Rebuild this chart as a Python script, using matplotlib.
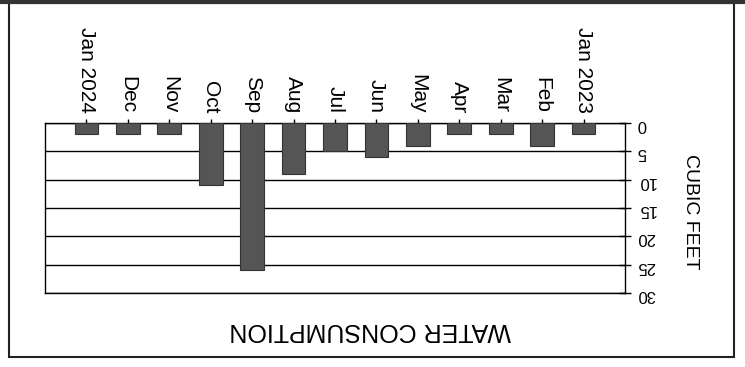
import numpy as np
import matplotlib
matplotlib.use('Agg')
import matplotlib.pyplot as plt
from matplotlib.patches import Rectangle

plt.rcParams['font.family'] = ['Liberation Sans', 'DejaVu Sans']

# monthly water use, chronological (chart is printed upside down on the bill)
months = ['Jan 2023', 'Feb', 'Mar', 'Apr', 'May', 'Jun', 'Jul',
          'Aug', 'Sep', 'Oct', 'Nov', 'Dec', 'Jan 2024']
cubic_feet = [2, 4, 2, 2, 4, 6, 5, 9, 26, 11, 2, 2, 2]
y_ticks = [0, 5, 10, 15, 20, 25, 30]

W, H = 745, 367
fig = plt.figure(figsize=(W / 100, H / 100), dpi=100)
ax = fig.add_axes([45 / W, 1 - 293 / H, (625 - 45) / W, (293 - 123) / H])

x = np.arange(len(months))
ax.bar(x, cubic_feet, width=0.57, color='#555555', edgecolor='#333333', linewidth=0.8, zorder=3)

# rotated 180 degrees: x runs right to left, y runs top to bottom
ax.set_xlim(len(months), -1)
ax.set_ylim(30, 0)

ax.xaxis.tick_top()
ax.set_xticks(x)
ax.set_xticklabels(months, rotation=270, fontsize=15)
ax.tick_params(axis='x', direction='out', length=3, width=1, pad=4)

# labels sit a little below their ticks on the scan, the default baseline alignment gives that
ax.yaxis.tick_right()
ax.set_yticks(y_ticks)
ax.set_yticklabels([str(t) for t in y_ticks], rotation=180, fontsize=12)
ax.tick_params(axis='y', direction='inout', length=9, width=1, pad=4)

ax.yaxis.grid(True, color='black', linewidth=1)
ax.set_axisbelow(True)
for s in ax.spines.values():
    s.set_color('black')
    s.set_linewidth(1)

fig.text(690 / W, 1 - 212 / H, 'CUBIC FEET', rotation=270, ha='center', va='center', fontsize=14)
fig.text(370 / W, 1 - 330 / H, 'WATER CONSUMPTION', rotation=180, ha='center', va='center', fontsize=18)

# box around the chart on the scanned bill
fig.patches.append(Rectangle((9 / W, 1 - 357 / H), (734 - 9) / W, (357 - 3) / H,
                             transform=fig.transFigure, fill=False, edgecolor='#222222', linewidth=1.5))
fig.add_artist(plt.Line2D([0, 1], [1 - 1.5 / H, 1 - 1.5 / H], transform=fig.transFigure,
                          color='#333333', linewidth=3))

fig.savefig('out.png', dpi=100)
